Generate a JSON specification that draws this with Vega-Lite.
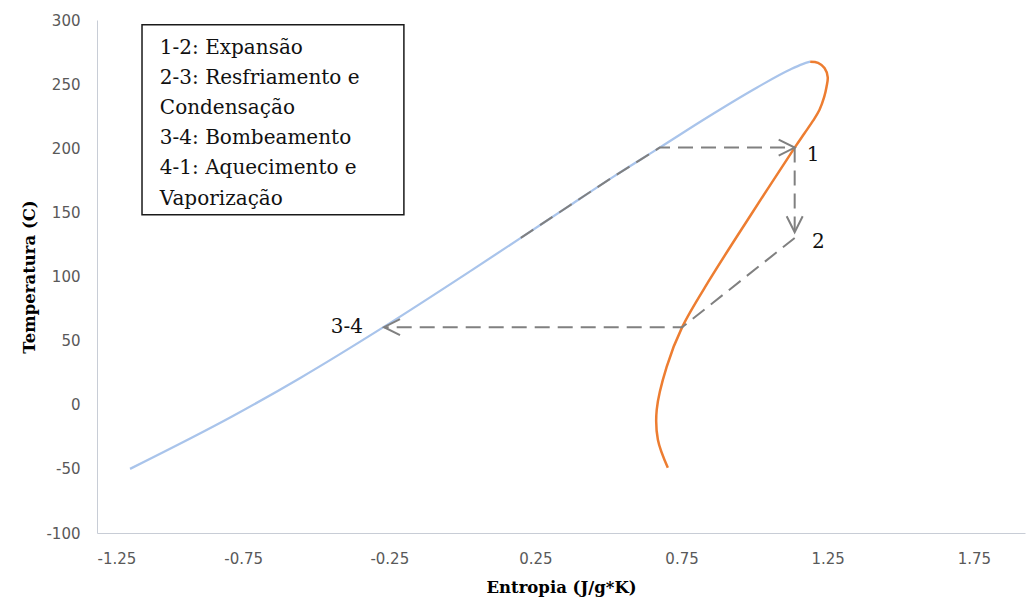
{
  "$schema": "https://vega.github.io/schema/vega-lite/v6.json",
  "width": 928,
  "height": 513,
  "autosize": "none",
  "padding": {"left": 97, "top": 20, "right": 5, "bottom": 72},
  "background": "white",
  "config": {
    "view": {"stroke": null},
    "axis": {
      "grid": false,
      "ticks": false,
      "domainColor": "#c8cdd6",
      "domainWidth": 1,
      "labelFont": "DejaVu Sans",
      "labelFontSize": 15,
      "labelColor": "#595959",
      "labelExpr": "replace(datum.label, '\u2212', '-')",
      "titleFont": "DejaVu Serif",
      "titleFontWeight": "bold",
      "titleFontSize": 16.5,
      "titleColor": "#000000"
    }
  },
  "datasets": {
    "liquido": [
      {"i": 0, "s": -1.137, "t": -50},
      {"i": 1, "s": -0.785, "t": -8.8},
      {"i": 2, "s": -0.556, "t": 20.7},
      {"i": 3, "s": -0.27, "t": 60.5},
      {"i": 4, "s": 0.03, "t": 104.6},
      {"i": 5, "s": 0.2, "t": 130.1},
      {"i": 6, "s": 0.368, "t": 155.5},
      {"i": 7, "s": 0.52, "t": 178.3},
      {"i": 8, "s": 0.675, "t": 200.5},
      {"i": 9, "s": 0.836, "t": 223.8},
      {"i": 10, "s": 1.007, "t": 247.2},
      {"i": 11, "s": 1.12, "t": 261.2},
      {"i": 12, "s": 1.164, "t": 265.6},
      {"i": 13, "s": 1.19, "t": 267.5}
    ],
    "vapor": [
      {"i": 0, "s": 1.19, "t": 267.5},
      {"i": 1, "s": 1.217, "t": 266.6},
      {"i": 2, "s": 1.239, "t": 262.5},
      {"i": 3, "s": 1.25, "t": 255.5},
      {"i": 4, "s": 1.246, "t": 248},
      {"i": 5, "s": 1.238, "t": 240},
      {"i": 6, "s": 1.222, "t": 230},
      {"i": 7, "s": 1.2, "t": 221.5},
      {"i": 8, "s": 1.17, "t": 211.5},
      {"i": 9, "s": 1.137, "t": 200.5},
      {"i": 10, "s": 0.983, "t": 146.6},
      {"i": 11, "s": 0.846, "t": 97.5},
      {"i": 12, "s": 0.752, "t": 60.5},
      {"i": 13, "s": 0.699, "t": 29.6},
      {"i": 14, "s": 0.665, "t": -3.9},
      {"i": 15, "s": 0.669, "t": -27.3},
      {"i": 16, "s": 0.703, "t": -49.1}
    ],
    "ciclo": [
      {"trecho": "4-1", "i": 0, "s": 0.2, "t": 130.1},
      {"trecho": "4-1", "i": 1, "s": 0.368, "t": 155.5},
      {"trecho": "4-1", "i": 2, "s": 0.52, "t": 178.3},
      {"trecho": "4-1", "i": 3, "s": 0.675, "t": 200.5},
      {"trecho": "4-1", "i": 4, "s": 1.137, "t": 200.5},
      {"trecho": "1-2", "i": 0, "s": 1.137, "t": 200.5},
      {"trecho": "1-2", "i": 1, "s": 1.137, "t": 134.5},
      {"trecho": "2-3", "i": 0, "s": 1.137, "t": 130},
      {"trecho": "2-3", "i": 1, "s": 0.752, "t": 60.5},
      {"trecho": "2-3", "i": 2, "s": -0.268, "t": 60.5}
    ],
    "setas": [
      {"sentido": "direita", "s": 1.137, "t": 200.5},
      {"sentido": "baixo", "s": 1.137, "t": 134.5},
      {"sentido": "esquerda", "s": -0.268, "t": 60.5}
    ],
    "pontos": [
      {"rotulo": "1", "s": 1.2, "t": 195},
      {"rotulo": "2", "s": 1.218, "t": 127},
      {"rotulo": "3-4", "s": -0.395, "t": 60.8}
    ],
    "caixa": [
      {"s": -1.096, "s2": -0.2, "t": 296.3, "t2": 148.1}
    ],
    "notas": [
      {"linha": "1-2: Expansão", "s": -1.035, "t": 278.4},
      {"linha": "2-3: Resfriamento e", "s": -1.035, "t": 255.0},
      {"linha": "Condensação", "s": -1.035, "t": 231.6},
      {"linha": "3-4: Bombeamento", "s": -1.035, "t": 208.2},
      {"linha": "4-1: Aquecimento e", "s": -1.035, "t": 184.8},
      {"linha": "Vaporização", "s": -1.035, "t": 160.6}
    ]
  },
  "encoding": {
    "x": {
      "field": "s",
      "type": "quantitative",
      "scale": {"domain": [-1.25, 1.925], "nice": false, "zero": false},
      "axis": {
        "title": "Entropia (J/g*K)",
        "values": [-1.25, -0.75, -0.25, 0.25, 0.75, 1.25, 1.75],
        "format": ".2f",
        "labelPadding": 18,
        "titlePadding": 13
      }
    },
    "y": {
      "field": "t",
      "type": "quantitative",
      "scale": {"domain": [-100, 300], "nice": false, "zero": false},
      "axis": {
        "title": "Temperatura (C)",
        "values": [-100, -50, 0, 50, 100, 150, 200, 250, 300],
        "labelPadding": 17,
        "titlePadding": 8
      }
    }
  },
  "layer": [
    {
      "data": {"name": "caixa"},
      "mark": {"type": "rect", "fill": "white", "stroke": "#1a1a1a", "strokeWidth": 1.5},
      "encoding": {"x2": {"field": "s2"}, "y2": {"field": "t2"}}
    },
    {
      "data": {"name": "notas"},
      "mark": {"type": "text", "align": "left", "baseline": "middle", "font": "DejaVu Serif", "fontSize": 20, "color": "#111111"},
      "encoding": {"text": {"field": "linha"}}
    },
    {
      "data": {"name": "liquido"},
      "mark": {"type": "line", "interpolate": "monotone", "strokeWidth": 2.25, "color": "#a9c4eb"},
      "encoding": {"order": {"field": "i", "type": "quantitative"}}
    },
    {
      "data": {"name": "vapor"},
      "mark": {"type": "line", "interpolate": "catmull-rom", "strokeWidth": 2.5, "color": "#ed7d31"},
      "encoding": {"order": {"field": "i", "type": "quantitative"}}
    },
    {
      "data": {"name": "ciclo"},
      "mark": {"type": "line", "color": "#808080", "strokeWidth": 2, "strokeDash": [15, 8]},
      "encoding": {
        "detail": {"field": "trecho", "type": "nominal"},
        "order": {"field": "i", "type": "quantitative"}
      }
    },
    {
      "data": {"name": "setas"},
      "mark": {"type": "point", "filled": false, "stroke": "#808080", "strokeWidth": 2, "size": 256, "opacity": 1},
      "encoding": {
        "shape": {
          "field": "sentido",
          "type": "nominal",
          "scale": {
            "domain": ["direita", "baixo", "esquerda"],
            "range": ["M-2,-1L0,0L-2,1", "M-1,-2L0,0L1,-2", "M2,-1L0,0L2,1"]
          },
          "legend": null
        }
      }
    },
    {
      "data": {"name": "pontos"},
      "mark": {"type": "text", "align": "center", "baseline": "middle", "font": "DejaVu Serif", "fontSize": 20, "color": "#111111"},
      "encoding": {"text": {"field": "rotulo"}}
    }
  ]
}
